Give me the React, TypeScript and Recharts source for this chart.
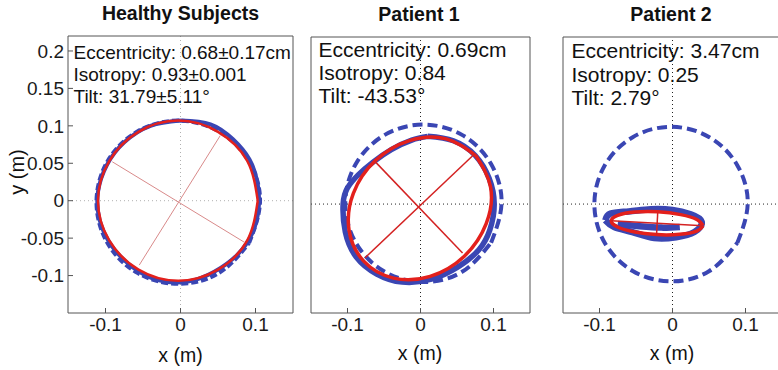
import React from 'react';
import { LineChart, Line, XAxis, YAxis, ReferenceLine } from 'recharts';

type Pt = { x: number; y: number };

const FONT = '"Liberation Sans", Arial, Helvetica, sans-serif';
const BLUE = '#3a46b3';
const RED = '#e3201c';

const xTicks = [-0.1, 0, 0.1];
const yTicks = [-0.1, -0.05, 0, 0.05, 0.1, 0.15, 0.2];

const p = (x: number, y: number): Pt => ({ x, y });

// Healthy subjects
const healthyTarget: Pt[] = [
  p(0.0914, -0.0565), p(0.106, -0.002), p(0.0914, 0.0525), p(0.0515, 0.0924), p(-0.003, 0.107),
  p(-0.0575, 0.0924), p(-0.0974, 0.0525), p(-0.112, -0.002), p(-0.0974, -0.0565), p(-0.0575, -0.0964),
  p(-0.003, -0.111), p(0.0515, -0.0964), p(0.0914, -0.0565),
];
const healthyPath: Pt[] = [
  p(0.0, 0.107), p(0.04, 0.102), p(0.07, 0.082), p(0.092, 0.055), p(0.103, 0.022), p(0.104, -0.012),
  p(0.095, -0.045), p(0.075, -0.073), p(0.045, -0.095), p(0.01, -0.108), p(-0.03, -0.106), p(-0.065, -0.088),
  p(-0.092, -0.06), p(-0.108, -0.025), p(-0.11, 0.012), p(-0.098, 0.048), p(-0.075, 0.078), p(-0.04, 0.1),
  p(0.0, 0.107),
];
const healthyFit: Pt[] = [
  p(0.103, 0.0), p(0.089, 0.053), p(0.05, 0.092), p(-0.003, 0.107), p(-0.056, 0.092), p(-0.095, 0.053),
  p(-0.11, 0.0), p(-0.095, -0.053), p(-0.056, -0.092), p(-0.003, -0.107), p(0.05, -0.092), p(0.089, -0.053),
  p(0.103, 0.0),
];
const healthyMajor: Pt[] = [p(-0.055, -0.086), p(0.053, 0.087)];
const healthyMinor: Pt[] = [p(-0.091, 0.052), p(0.086, -0.056)];

// Patient 1
const p1Target: Pt[] = [
  p(0.0967, -0.0525), p(0.111, 0.001), p(0.0967, 0.0545), p(0.0575, 0.0937), p(0.004, 0.108),
  p(-0.0495, 0.0937), p(-0.0887, 0.0545), p(-0.103, 0.001), p(-0.0887, -0.0525), p(-0.0495, -0.0917),
  p(0.004, -0.106), p(0.0575, -0.0917), p(0.0967, -0.0525),
];
const p1Path: Pt[] = [
  p(0.01, 0.092), p(0.045, 0.086), p(0.075, 0.066), p(0.094, 0.035), p(0.101, 0.0), p(0.095, -0.035),
  p(0.08, -0.062), p(0.052, -0.085), p(0.015, -0.102), p(-0.025, -0.106), p(-0.06, -0.095), p(-0.088, -0.072),
  p(-0.103, -0.038), p(-0.106, 0.0), p(-0.1, 0.022), p(-0.085, 0.04), p(-0.065, 0.057), p(-0.04, 0.074),
  p(-0.012, 0.087), p(0.01, 0.092),
];
const p1Fit: Pt[] = [
  p(0.0758, 0.0656), p(0.0351, 0.0886), p(-0.0152, 0.0862), p(-0.0617, 0.0591), p(-0.092, 0.0146),
  p(-0.0979, -0.0354), p(-0.0778, -0.0776), p(-0.0371, -0.1006), p(0.0132, -0.0982), p(0.0597, -0.0711),
  p(0.09, -0.0266), p(0.0959, 0.0234), p(0.0758, 0.0656),
];
const p1Major: Pt[] = [p(-0.076, -0.073), p(0.074, 0.068)];
const p1Minor: Pt[] = [p(-0.0625, 0.058), p(0.0576, -0.0666)];

// Patient 2
const p2Target: Pt[] = [
  p(0.0889, -0.0525), p(0.103, 0.0), p(0.0889, 0.0525), p(0.0505, 0.0909), p(-0.002, 0.105),
  p(-0.0545, 0.0909), p(-0.0929, 0.0525), p(-0.107, 0.0), p(-0.0929, -0.0525), p(-0.0545, -0.0909),
  p(-0.002, -0.105), p(0.0505, -0.0909), p(0.0889, -0.0525),
];
const p2Path: Pt[] = [
  p(-0.092, -0.022), p(-0.085, -0.013), p(-0.06, -0.01), p(-0.03, -0.007), p(0.0, -0.008), p(0.025, -0.014),
  p(0.04, -0.024), p(0.03, -0.038), p(0.005, -0.045), p(-0.025, -0.046), p(-0.055, -0.038), p(-0.08, -0.031),
  p(-0.092, -0.022),
];
const p2PathInner: Pt[] = [p(-0.075, -0.027), p(-0.045, -0.03), p(-0.015, -0.032), p(0.01, -0.031)];
const p2Fit: Pt[] = [
  p(0.0419, -0.0293), p(0.0339, -0.0212), p(0.0112, -0.0143), p(-0.0202, -0.0105), p(-0.0518, -0.0109),
  p(-0.0751, -0.0154), p(-0.0839, -0.0227), p(-0.0759, -0.0308), p(-0.0532, -0.0377), p(-0.0218, -0.0415),
  p(0.0098, -0.0411), p(0.0331, -0.0366), p(0.0419, -0.0293),
];
const p2Major: Pt[] = [p(-0.0839, -0.0227), p(0.0419, -0.0293)];
const p2Minor: Pt[] = [p(-0.0202, -0.0105), p(-0.0218, -0.0415)];

const Txt: React.FC<{ x: number; base: number; size: number; center?: boolean; bold?: boolean; children: React.ReactNode }> = ({
  x, base, size, center, bold, children,
}) => (
  <div
    style={{
      position: 'absolute',
      left: x,
      top: base - 0.8465 * size,
      fontSize: size,
      lineHeight: 1,
      fontFamily: FONT,
      fontWeight: bold ? 700 : 400,
      color: '#111',
      whiteSpace: 'nowrap',
      transform: center ? 'translateX(-50%)' : undefined,
    }}
  >
    {children}
  </div>
);

type PanelProps = {
  left: number;
  width: number;
  margin: { top: number; right: number; bottom: number; left: number };
  yAxisWidth: number;
  showY: boolean;
  yDomain: [number, number];
  target: Pt[];
  paths: Pt[][];
  fit: Pt[];
  axes: Pt[][];
  pathWidth: number;
  fitWidth: number;
  dash: string;
  axisColor: string;
  axisWidth: number;
  zeroColor: string;
};

const FRAME = '#555';

const Panel: React.FC<PanelProps> = (pp) => {
  const tickStyle = { fontSize: 19, fill: '#1a1a1a', fontFamily: FONT };
  return (
    <div style={{ position: 'absolute', left: pp.left, top: 0 }}>
      <LineChart width={pp.width} height={370} margin={pp.margin}>
        <XAxis
          dataKey="x"
          type="number"
          domain={[-0.15, 0.15]}
          ticks={xTicks}
          allowDataOverflow
          height={57}
          stroke={FRAME}
          tickSize={-5}
          tickMargin={10}
          tick={tickStyle}
        />
        <XAxis
          xAxisId="top"
          orientation="top"
          dataKey="x"
          type="number"
          domain={[-0.15, 0.15]}
          ticks={xTicks}
          allowDataOverflow
          height={1}
          stroke={FRAME}
          tickSize={-5}
          tick={false}
        />
        <YAxis
          type="number"
          domain={pp.yDomain}
          ticks={yTicks}
          allowDataOverflow
          width={pp.yAxisWidth}
          stroke={FRAME}
          tickSize={-5}
          tickMargin={9}
          tick={pp.showY ? tickStyle : false}
        />
        <YAxis
          yAxisId="right"
          orientation="right"
          type="number"
          domain={pp.yDomain}
          ticks={yTicks}
          allowDataOverflow
          width={1}
          stroke={FRAME}
          tickSize={-5}
          tick={false}
        />
        <ReferenceLine x={0} stroke={pp.zeroColor} strokeDasharray="1 3" strokeWidth={1} />
        <ReferenceLine y={0} stroke={pp.zeroColor} strokeDasharray="1 3" strokeWidth={1} />
        <Line
          data={pp.target}
          dataKey="y"
          type="natural"
          stroke={BLUE}
          strokeWidth={4}
          strokeDasharray={pp.dash}
          dot={false}
          isAnimationActive={false}
        />
        {pp.paths.map((d, i) => (
          <Line
            key={'path' + i}
            data={d}
            dataKey="y"
            type="natural"
            stroke={BLUE}
            strokeWidth={pp.pathWidth}
            strokeLinejoin="round"
            dot={false}
            isAnimationActive={false}
          />
        ))}
        <Line data={pp.fit} dataKey="y" type="natural" stroke={RED} strokeWidth={pp.fitWidth} dot={false} isAnimationActive={false} />
        {pp.axes.map((d, i) => (
          <Line
            key={'ax' + i}
            data={d}
            dataKey="y"
            type="linear"
            stroke={pp.axisColor}
            strokeWidth={pp.axisWidth}
            dot={false}
            isAnimationActive={false}
          />
        ))}
      </LineChart>
    </div>
  );
};

const App: React.FC = () => {
  return (
    <div
      style={{
        position: 'fixed',
        left: 0,
        top: 0,
        width: 778,
        height: 370,
        overflow: 'hidden',
        background: '#fff',
      }}
    >
      <Panel
        left={0}
        width={300}
        margin={{ top: 35, right: 6, bottom: 0, left: 0 }}
        yAxisWidth={68}
        showY
        yDomain={[-0.15, 0.22]}
        target={healthyTarget}
        paths={[healthyPath]}
        fit={healthyFit}
        axes={[healthyMajor, healthyMinor]}
        pathWidth={4}
        fitWidth={2.5}
        dash="7 3"
        axisColor="#d98a8a"
        axisWidth={1}
        zeroColor="#b0b0b0"
      />
      <Panel
        left={300}
        width={240}
        margin={{ top: 36, right: 9, bottom: 0, left: 10 }}
        yAxisWidth={1}
        showY={false}
        yDomain={[-0.148, 0.227]}
        target={p1Target}
        paths={[p1Path]}
        fit={p1Fit}
        axes={[p1Major, p1Minor]}
        pathWidth={5.5}
        fitWidth={3.5}
        dash="10 5"
        axisColor="#d42222"
        axisWidth={1.5}
        zeroColor="#222"
      />
      <Panel
        left={552}
        width={240}
        margin={{ top: 36, right: 9, bottom: 0, left: 10 }}
        yAxisWidth={1}
        showY={false}
        yDomain={[-0.148, 0.227]}
        target={p2Target}
        paths={[p2Path, p2PathInner]}
        fit={p2Fit}
        axes={[p2Major, p2Minor]}
        pathWidth={6.5}
        fitWidth={3.5}
        dash="10 5"
        axisColor="#d42222"
        axisWidth={1.5}
        zeroColor="#222"
      />

      <Txt x={180.5} base={21} size={19.5} center bold>Healthy Subjects</Txt>
      <Txt x={419} base={21.5} size={19.5} center bold>Patient 1</Txt>
      <Txt x={671} base={21.5} size={19.5} center bold>Patient 2</Txt>

      <Txt x={73.5} base={59} size={19}>Eccentricity: 0.68±0.17cm</Txt>
      <Txt x={73.5} base={81} size={19}>Isotropy: 0.93±0.001</Txt>
      <Txt x={73.5} base={103} size={19}>Tilt: 31.79±5.11°</Txt>

      <Txt x={318.5} base={57} size={21}>Eccentricity: 0.69cm</Txt>
      <Txt x={318.5} base={80} size={21}>Isotropy: 0.84</Txt>
      <Txt x={318.5} base={103} size={21}>Tilt: -43.53°</Txt>

      <Txt x={571.5} base={58} size={21}>Eccentricity: 3.47cm</Txt>
      <Txt x={571.5} base={81.5} size={21}>Isotropy: 0.25</Txt>
      <Txt x={571.5} base={105} size={21}>Tilt: 2.79°</Txt>

      <Txt x={180.5} base={363} size={19.5} center>x (m)</Txt>
      <Txt x={420} base={361} size={19.5} center>x (m)</Txt>
      <Txt x={672} base={361} size={19.5} center>x (m)</Txt>

      <div
        style={{
          position: 'absolute',
          left: 17,
          top: 172,
          transform: 'translate(-50%, -50%) rotate(-90deg)',
          fontSize: 20,
          lineHeight: 1,
          fontFamily: FONT,
          color: '#111',
          whiteSpace: 'nowrap',
        }}
      >
        y (m)
      </div>
    </div>
  );
};

export default App;
